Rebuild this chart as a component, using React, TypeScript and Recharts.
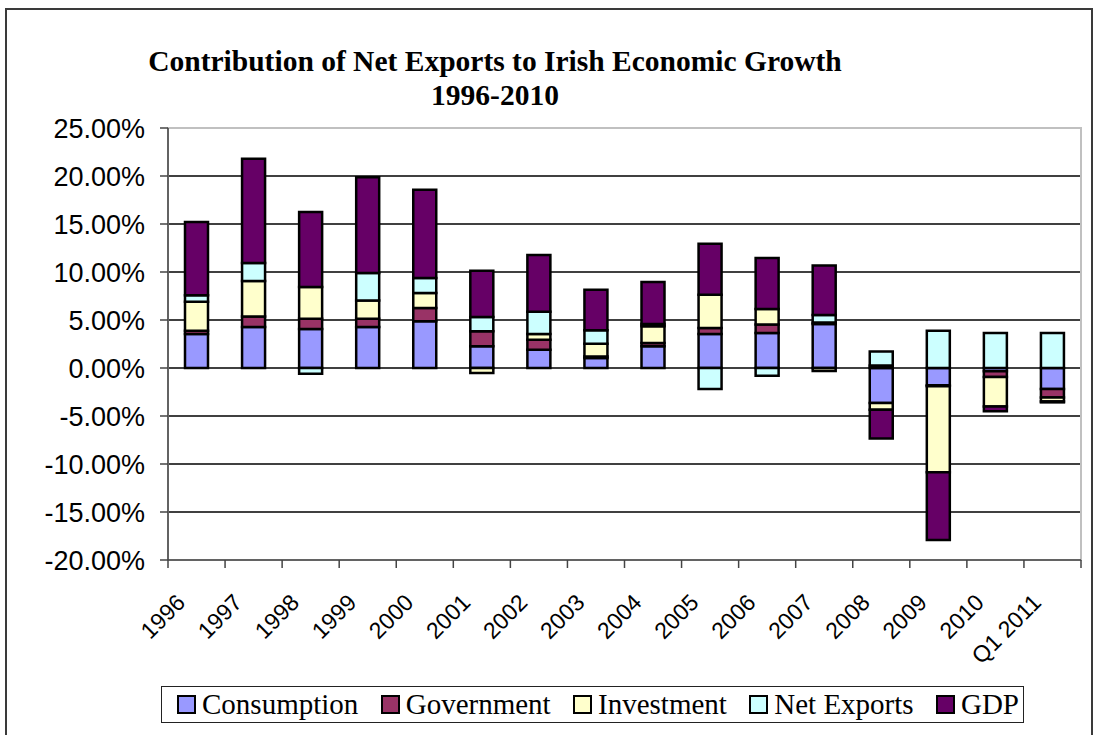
import React from 'react'
import { BarChart, Bar, XAxis, YAxis, CartesianGrid, ReferenceArea } from 'recharts'

// values are percentage points
const years = ['1996', '1997', '1998', '1999', '2000', '2001', '2002', '2003', '2004', '2005', '2006', '2007', '2008', '2009', '2010', 'Q1 2011']
const consumption = [3.54, 4.27, 4.06, 4.27, 4.86, 2.26, 1.9, 1.04, 2.26, 3.54, 3.65, 4.58, -3.65, -1.8, -0.35, -2.19]
const government = [0.35, 1.1, 1.08, 0.87, 1.39, 1.56, 1.04, 0.17, 0.35, 0.63, 0.87, 0.15, 0.25, -0.1, -0.6, -0.87]
const investment = [3.02, 3.68, 3.3, 1.9, 1.56, -0.52, 0.6, 1.32, 1.74, 3.47, 1.63, -0.3, -0.7, -8.96, -3.05, -0.42]
const netExports = [0.66, 1.88, -0.6, 2.85, 1.56, 1.49, 2.33, 1.39, 0.24, -2.19, -0.8, 0.8, 1.46, 3.89, 3.65, 3.65]
const gdp = [7.64, 10.87, 7.8, 9.97, 9.2, 4.83, 5.9, 4.24, 4.38, 5.31, 5.31, 5.14, -3.0, -7.05, -0.5, -0.1]
const yTicks = [-20, -15, -10, -5, 0, 5, 10, 15, 20, 25]

const series = [
  { key: 'Consumption', values: consumption, color: '#9999FF' },
  { key: 'Government', values: government, color: '#993366' },
  { key: 'Investment', values: investment, color: '#FFFFCC' },
  { key: 'Net Exports', values: netExports, color: '#CCFFFF' },
  { key: 'GDP', values: gdp, color: '#660066' },
]

const data = years.map((year, i) => {
  const row: Record<string, string | number> = { year }
  series.forEach(s => { row[s.key] = s.values[i] })
  return row
})

const sans = '"Liberation Sans", Arial, sans-serif'
const serif = '"Liberation Serif", "Times New Roman", serif'

function YearTick(props: any) {
  const { x, y, payload, index } = props
  const half = payload?.offset || 28.5
  const tx = x - 10
  const ty = y + 44
  return (
    <g>
      <line x1={x - half} y1={y} x2={x - half} y2={y + 8} stroke="#444" strokeWidth={1.5} />
      {index === years.length - 1 && (
        <line x1={x + half} y1={y} x2={x + half} y2={y + 8} stroke="#444" strokeWidth={1.5} />
      )}
      <text x={tx} y={ty} textAnchor="end" transform={`rotate(-45, ${tx}, ${ty})`}
        fontSize={23} fontFamily={sans} fill="#000">
        {payload.value}
      </text>
    </g>
  )
}

export default function App() {
  return (
    <div style={{ position: 'absolute', left: 0, top: 0, width: 1098, height: 735, overflow: 'hidden', background: '#fff' }}>
      <div style={{ position: 'absolute', left: 5, top: 8, width: 1088, height: 740, border: '2px solid #3a3a3a', boxSizing: 'border-box' }} />

      <div style={{ position: 'absolute', left: 0, width: 990, top: 44, textAlign: 'center', fontFamily: serif, fontWeight: 'bold', fontSize: 29.5, lineHeight: '34px', color: '#000' }}>
        Contribution of Net Exports to Irish Economic Growth<br />1996-2010
      </div>

      <div style={{ position: 'absolute', left: 0, top: 0 }}>
        <BarChart width={1098} height={735} data={data} stackOffset="sign" barSize={23}
          margin={{ top: 128, right: 17, bottom: 115, left: 0 }}>
          <CartesianGrid vertical={false} stroke="#000" strokeWidth={1.3} />
          <ReferenceArea y1={-20} y2={25} fill="none" stroke="#c0c0c0" strokeWidth={2} />
          <XAxis dataKey="year" interval={0} height={60} tickSize={0} tickMargin={0}
            axisLine={{ stroke: '#444', strokeWidth: 1.5 }} tickLine={false} tick={<YearTick />} />
          <YAxis width={168} domain={[-20, 25]} ticks={yTicks} interval={0} tickSize={8} tickMargin={15}
            axisLine={{ stroke: '#444', strokeWidth: 1.5 }} tickLine={{ stroke: '#444', strokeWidth: 1.5 }}
            tick={{ fontSize: 27, fontFamily: sans, fill: '#000' }}
            tickFormatter={(v: number) => `${v.toFixed(2)}%`} />
          {series.map(s => (
            <Bar key={s.key} dataKey={s.key} stackId="a" fill={s.color} stroke="#000" strokeWidth={2.5}
              isAnimationActive={false} />
          ))}
        </BarChart>
      </div>

      <div style={{ position: 'absolute', left: 161, top: 686, width: 863, height: 37, border: '1px solid #222', boxSizing: 'border-box', display: 'flex', alignItems: 'center', justifyContent: 'space-between', paddingLeft: 15, paddingRight: 4, fontFamily: serif, fontSize: 29, color: '#000', background: '#fff' }}>
        {series.map(s => (
          <div key={s.key} style={{ display: 'flex', alignItems: 'center', whiteSpace: 'nowrap' }}>
            <span style={{ display: 'inline-block', width: 15, height: 15, background: s.color, border: '2px solid #000', marginRight: 6 }} />
            <span>{s.key}</span>
          </div>
        ))}
      </div>
    </div>
  )
}
